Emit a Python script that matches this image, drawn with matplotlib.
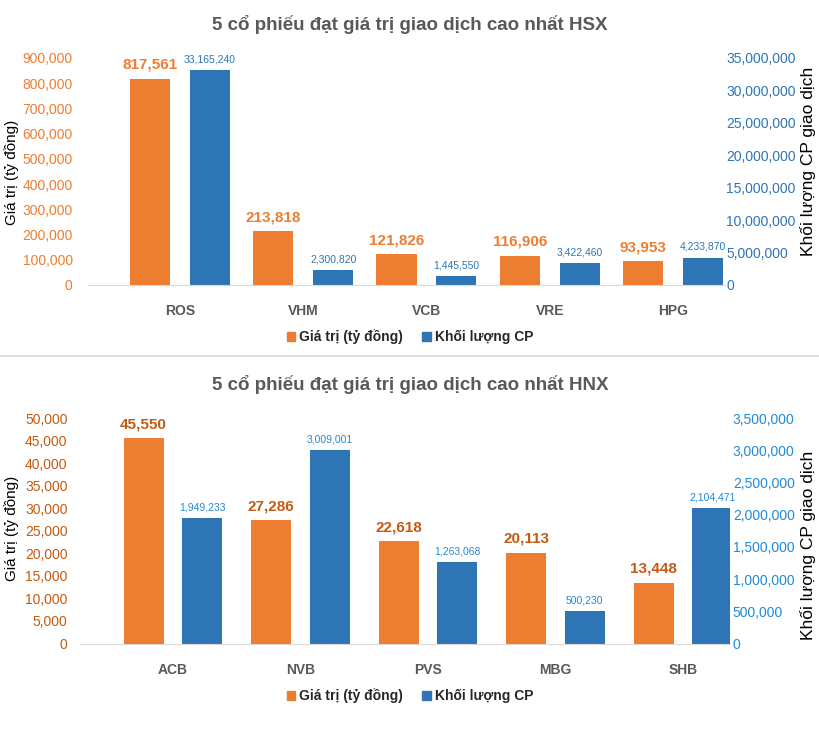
import matplotlib
matplotlib.use("Agg")
import matplotlib.pyplot as plt
from matplotlib.patches import Patch
from matplotlib.lines import Line2D
from matplotlib.ticker import FuncFormatter
import numpy as np

plt.rcParams['font.family'] = ['Liberation Sans', 'DejaVu Sans']

# HSX data
hsx_codes = ["ROS", "VHM", "VCB", "VRE", "HPG"]
hsx_value = [817561, 213818, 121826, 116906, 93953]
hsx_volume = [33165240, 2300820, 1445550, 3422460, 4233870]

# HNX data
hnx_codes = ["ACB", "NVB", "PVS", "MBG", "SHB"]
hnx_value = [45550, 27286, 22618, 20113, 13448]
hnx_volume = [1949233, 3009001, 1263068, 500230, 2104471]

ORANGE = "#ED7D31"
BLUE = "#2E75B6"
GRAY = "#595959"

fmt = FuncFormatter(lambda v, p: f"{v:,.0f}")


def draw_panel(rect, codes, value, volume, title, lims, xlim, off, width,
               lcol, rcol, lpad, rpad, title_y, legend_y, ylab_y, rlab_y):
    ax = fig.add_axes(rect)
    ax2 = ax.twinx()
    x = np.arange(len(codes))
    ax.bar(x - off, value, width, color=ORANGE, zorder=3)
    ax2.bar(x + off, volume, width, color=BLUE, zorder=3)
    ax.set_xlim(*xlim)
    ax.set_ylim(0, lims[0])
    ax2.set_ylim(0, lims[2])
    ax.set_yticks(np.linspace(0, lims[0], lims[1] + 1))
    ax2.set_yticks(np.linspace(0, lims[2], lims[3] + 1))
    ax.yaxis.set_major_formatter(fmt)
    ax2.yaxis.set_major_formatter(fmt)
    ax.set_xticks(x)
    ax.set_xticklabels(codes, fontsize=10, fontweight="bold", color=GRAY)
    ax.tick_params(axis="x", length=0, pad=14)
    ax.tick_params(axis="y", length=0, labelsize=10, labelcolor=lcol, pad=lpad)
    ax2.tick_params(axis="y", length=0, labelsize=10, labelcolor=rcol, pad=rpad)
    for a in (ax, ax2):
        for s in a.spines.values():
            s.set_visible(False)
    ax.spines["bottom"].set_visible(True)
    ax.spines["bottom"].set_color("#D9D9D9")
    ax.set_zorder(ax2.get_zorder() + 1)
    ax.patch.set_visible(False)

    for i, v in enumerate(value):
        ax.annotate(f"{v:,}", (x[i] - off, v), xytext=(0, 5), textcoords="offset points",
                    ha="center", va="bottom", fontsize=11, fontweight="bold", color=lcol)
    for i, v in enumerate(volume):
        ax2.annotate(f"{v:,}", (x[i] + off, v), xytext=(0, 4), textcoords="offset points",
                     ha="center", va="bottom", fontsize=7.5, color=rcol)

    fig.text(0.5, title_y, title, ha="center", va="center", fontsize=13.5,
             fontweight="bold", color=GRAY)
    fig.text(12 / 820, ylab_y, "Giá trị (tỷ đồng)", rotation=90, ha="center", va="center",
             fontsize=11)
    fig.text(808 / 820, rlab_y, "Khối lượng CP giao dịch", rotation=90, ha="center",
             va="center", fontsize=12.5)
    handles = [Patch(color=ORANGE, label="Giá trị (tỷ đồng)"),
               Patch(color=BLUE, label="Khối lượng CP")]
    fig.legend(handles=handles, loc="center", bbox_to_anchor=(0.5, legend_y), ncol=2,
               frameon=False, handlelength=0.6, handleheight=0.6, handletextpad=0.3,
               columnspacing=1.4, prop={"size": 10, "weight": "bold"}, labelcolor="#262626")
    return ax


fig = plt.figure(figsize=(8.2, 7.42), dpi=100)

draw_panel([88 / 820, 1 - 285 / 742, 637 / 820, 227 / 742], hsx_codes, hsx_value, hsx_volume,
           "5 cổ phiếu đạt giá trị giao dịch cao nhất HSX", (900000, 9, 35000000, 7),
           (-0.746, 4.422), 0.243, 0.325, ORANGE, BLUE, 11, 1,
           1 - 25 / 742, 1 - 337 / 742, 1 - 172 / 742, 1 - 161 / 742)

fig.add_artist(Line2D([0, 1], [1 - 356 / 742] * 2, color="#D9D9D9", lw=1.2))

draw_panel([80 / 820, 1 - 643.5 / 742, 650 / 820, 225.5 / 742], hnx_codes, hnx_value, hnx_volume,
           "5 cổ phiếu đạt giá trị giao dịch cao nhất HNX", (50000, 10, 3500000, 7),
           (-0.729, 4.369), 0.23, 0.314, "#C55A11", "#1F8AD8", 9, 2,
           1 - 385 / 742, 1 - 696 / 742, 1 - 528 / 742, 1 - 545 / 742)

fig.savefig("out.png", dpi=100)
